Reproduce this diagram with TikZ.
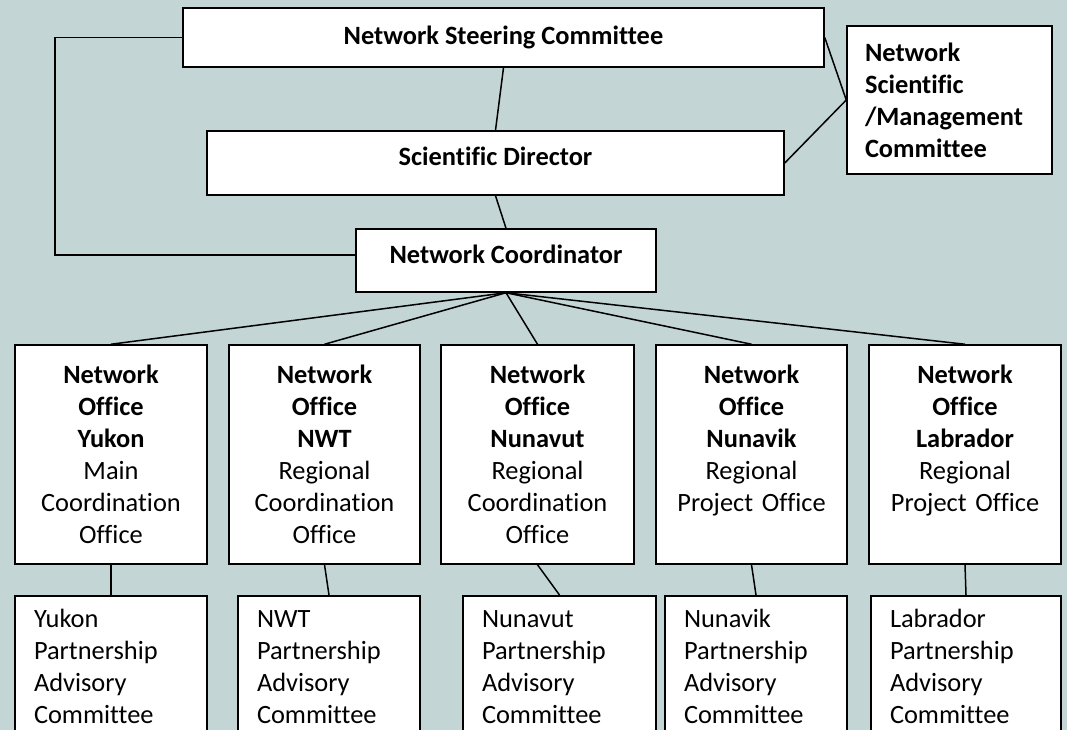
\documentclass[tikz,border=0pt]{standalone}
\usepackage{fontspec}
\setmainfont{Carlito}[Ligatures=NoCommon]
\definecolor{bgc}{RGB}{195,213,213}
\begin{document}
\begin{tikzpicture}[x=1pt,y=-1pt,
  every node/.style={font=\fontsize{26.4}{32}\selectfont},
  box/.style={draw=black,fill=white,line width=1.5pt,rectangle,inner sep=0pt},
  topbox/.style={box,font=\fontsize{26.4}{32}\selectfont\bfseries},
  office/.style={box,align=center,text width=180pt,minimum height=219pt},
  partner/.style={box,align=left,anchor=north,inner xsep=19pt,inner ysep=9.6pt},
  conn/.style={line width=1.5pt,draw=black}]
\useasboundingbox (0,0) rectangle (1067,730);
\clip (0,0) rectangle (1067,730);
\fill[bgc] (0,0) rectangle (1067,730);

% top boxes
\node[topbox,minimum width=641pt,minimum height=59pt] (steer) at (503.5,37.5) {Network Steering Committee};
\node[topbox,minimum width=577pt,minimum height=64pt,text height=18pt,text depth=13pt] (sd) at (495.5,163) {Scientific Director};
\node[topbox,minimum width=300pt,minimum height=63pt,text height=18pt,text depth=13pt] (coord) at (506,260.5) {Network Coordinator};
\node[topbox,align=left,text width=169pt,inner xsep=18pt,minimum height=148pt] (nsmc) at (949.5,100) {Network\\Scientific\\/Management\\Committee};

% offices
\node[office,minimum width=192pt] (o1) at (111,454.5) {\textbf{Network}\\\textbf{Office}\\\textbf{Yukon}\\Main\\Coordination\\Office};
\node[office,minimum width=191pt] (o2) at (324.5,454.5) {\textbf{Network}\\\textbf{Office}\\\textbf{NWT}\\Regional\\Coordination\\Office};
\node[office,minimum width=193pt] (o3) at (537.5,454.5) {\textbf{Network}\\\textbf{Office}\\\textbf{Nunavut}\\Regional\\Coordination\\Office};
\node[office,minimum width=191pt] (o4) at (751.5,454.5) {\textbf{Network}\\\textbf{Office}\\\textbf{Nunavik}\\Regional\\Project Office\\\mbox{}};
\node[office,minimum width=192pt] (o5) at (965,454.5) {\textbf{Network}\\\textbf{Office}\\\textbf{Labrador}\\Regional\\Project Office\\\mbox{}};

% partnership committees
\node[partner,text width=154pt] (p1) at (111,595) {\strut Yukon\\Partnership\\Advisory\\Committee\strut};
\node[partner,text width=144pt] (p2) at (329,595) {\strut NWT\\Partnership\\Advisory\\Committee\strut};
\node[partner,text width=155pt] (p3) at (559.5,595) {\strut Nunavut\\Partnership\\Advisory\\Committee\strut};
\node[partner,text width=144pt] (p4) at (756,595) {\strut Nunavik\\Partnership\\Advisory\\Committee\strut};
\node[partner,text width=152pt] (p5) at (966,595) {\strut Labrador\\Partnership\\Advisory\\Committee\strut};

% connectors
\coordinate (lb) at (55,255);
\draw[conn] (steer.west) -| (lb) -- (lb -| coord.west);
\draw[conn] (steer.south) -- (sd.north);
\draw[conn] (sd.south) -- (coord.north);
\draw[conn] (steer.east) -- (nsmc.west);
\draw[conn] (sd.east) -- (nsmc.west);
\foreach \o in {o1,o2,o3,o4,o5} \draw[conn] (coord.south) -- (\o.north);
\draw[conn] (o1.south) -- (p1.north);
\draw[conn] (o2.south) -- (p2.north);
\draw[conn] (o3.south) -- (p3.north);
\draw[conn] (o4.south) -- (p4.north);
\draw[conn] (o5.south) -- (p5.north);
\end{tikzpicture}
\end{document}
